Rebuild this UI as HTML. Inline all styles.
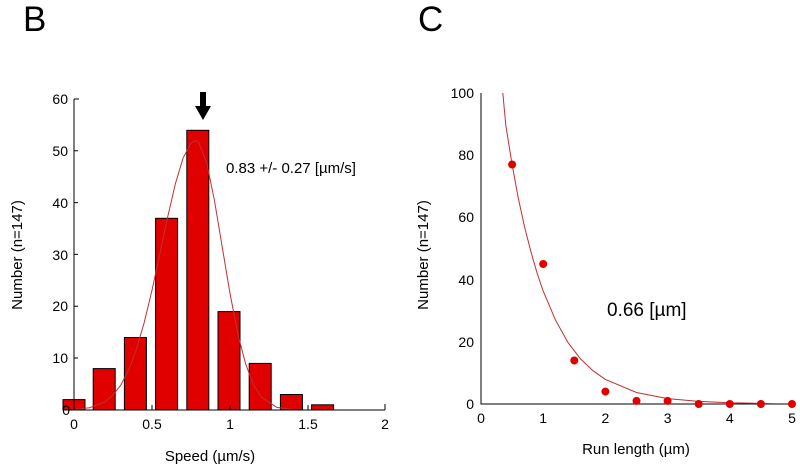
<!DOCTYPE html>
<html><head><meta charset="utf-8"><style>
html,body{margin:0;padding:0;background:#fff;}
svg{display:block;font-family:"Liberation Sans",Arial,sans-serif;}
</style></head><body>
<svg width="800" height="470" viewBox="0 0 800 470" xmlns="http://www.w3.org/2000/svg">
<text x="23" y="31" font-size="35">B</text>
<text x="418" y="31" font-size="35">C</text>

<!-- Left chart -->
<g fill="#e00000" stroke="#000" stroke-width="1">
<rect x="63" y="399.6" width="22" height="10.4"/>
<rect x="93.2" y="368.6" width="22" height="41.4"/>
<rect x="124.4" y="337.5" width="22" height="72.5"/>
<rect x="155.6" y="218.3" width="22" height="191.7"/>
<rect x="186.8" y="130.3" width="22" height="279.7"/>
<rect x="218" y="311.6" width="22" height="98.4"/>
<rect x="249.2" y="363.4" width="22" height="46.6"/>
<rect x="280.4" y="394.5" width="22" height="15.5"/>
<rect x="311.6" y="404.8" width="22" height="5.2"/>
</g>
<polyline fill="none" stroke="#c03030" stroke-width="1" points="74,409.5 89.6,407.7 105.2,401.7 113,395 120.8,385.1 128.6,370.1 136.4,349.4 144.2,322.5 152,290.3 159.8,254.1 167.6,217.3 175.4,183.6 183.2,157.7 191,143.2 195.7,140.6 198.8,142.7 206.6,162.4 214.4,200.2 222.2,246.8 230,293.4 237.8,333.9 245.6,363.9 253.4,384.6 261.2,397 276.8,407.4 292.4,409.5"/>
<g stroke="#000" stroke-width="1" fill="none">
<path d="M74,99V410H385"/>
<path d="M74,99h5M74,150.8h4M74,202.6h4M74,254.4h4M74,306.2h4M74,358h4"/>
<path d="M152,410v-5M230,410v-5M308,410v-5M385,410v-6"/>
</g>
<g font-size="14" text-anchor="end">
<text x="68" y="104">60</text><text x="68" y="156">50</text><text x="68" y="208">40</text>
<text x="68" y="260">30</text><text x="68" y="311">20</text><text x="68" y="363">10</text><text x="70" y="415">0</text>
</g>
<g font-size="14" text-anchor="middle">
<text x="74" y="429">0</text><text x="152" y="429">0.5</text><text x="230" y="429">1</text>
<text x="308" y="429">1.5</text><text x="385" y="429">2</text>
</g>
<text x="210" y="461" font-size="15" text-anchor="middle">Speed (µm/s)</text>
<text transform="translate(22,255) rotate(-90)" font-size="15" text-anchor="middle">Number (n=147)</text>
<path d="M200,92h6v14h5l-8,14l-8,-14h5z" fill="#000"/>
<text x="226" y="173" font-size="15">0.83 +/- 0.27 [µm/s]</text>

<!-- Right chart -->
<g stroke="#000" stroke-width="1" fill="none">
<path d="M481,93V404H792"/>
</g>
<polyline fill="none" stroke="#c03030" stroke-width="1" points="502.8,93 505.9,126 512.1,164.5 518.3,198.1 524.5,226.7 530.8,251.3 537,272.8 543.2,291.1 555.6,320.3 568.1,342.7 580.5,358.9 593,370.7 605.4,379.4 636.5,392.5 667.6,398.6 698.7,401.4 729.8,402.8 773.3,403.6"/>
<g fill="#e00000">
<circle cx="512.1" cy="164.5" r="4"/><circle cx="543.2" cy="264" r="4"/><circle cx="574.3" cy="360.5" r="4"/>
<circle cx="605.4" cy="391.6" r="4"/><circle cx="636.5" cy="400.9" r="4"/><circle cx="667.6" cy="400.9" r="4"/>
<circle cx="698.7" cy="404" r="4"/><circle cx="729.8" cy="404" r="4"/><circle cx="760.9" cy="404" r="4"/><circle cx="792" cy="404" r="4"/>
</g>
<g font-size="14" text-anchor="end">
<text x="474" y="98">100</text><text x="474" y="160">80</text><text x="474" y="222">60</text>
<text x="474" y="285">40</text><text x="474" y="347">20</text><text x="474" y="409">0</text>
</g>
<g font-size="14" text-anchor="middle">
<text x="481" y="423">0</text><text x="543.2" y="423">1</text><text x="605.4" y="423">2</text>
<text x="667.6" y="423">3</text><text x="729.8" y="423">4</text><text x="792" y="423">5</text>
</g>
<text x="636" y="454" font-size="15" text-anchor="middle">Run length (µm)</text>
<text transform="translate(428,255) rotate(-90)" font-size="15" text-anchor="middle">Number (n=147)</text>
<text x="607" y="316" font-size="19">0.66 [µm]</text>
</svg>
</body></html>
